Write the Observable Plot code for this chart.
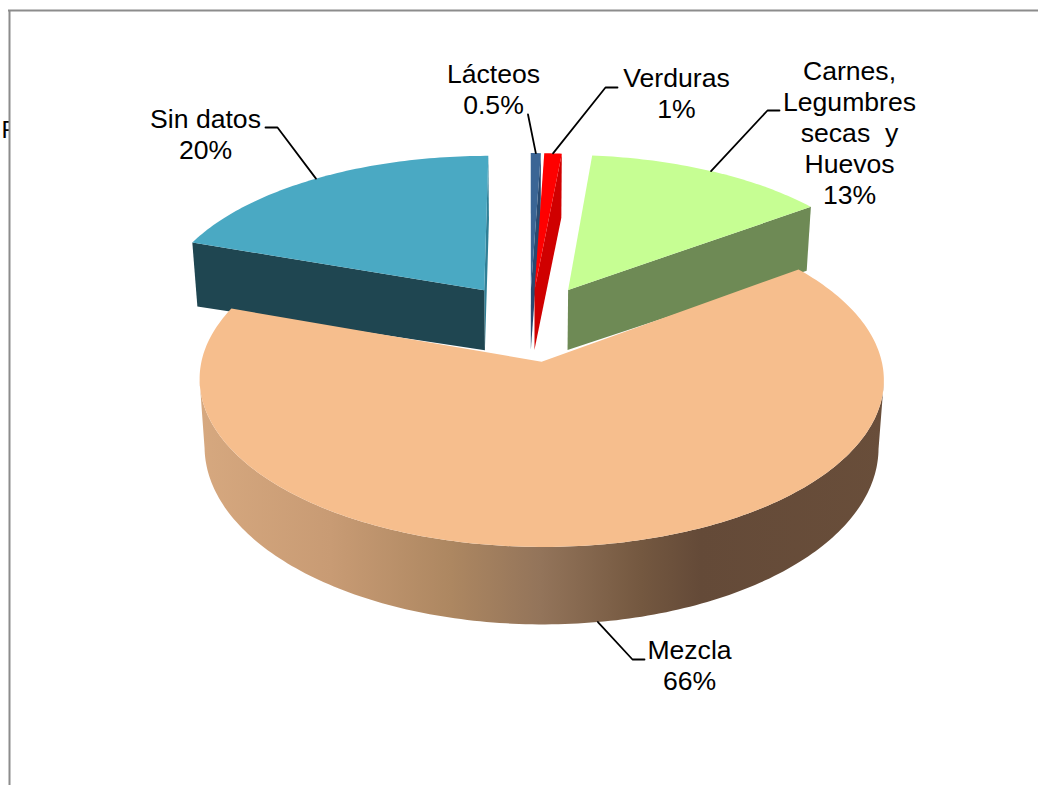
<!DOCTYPE html>
<html>
<head>
<meta charset="utf-8">
<script src="https://cdn.jsdelivr.net/npm/d3@7"></script>
<script src="https://cdn.jsdelivr.net/npm/@observablehq/plot@0.6"></script>
<style>
html,body{margin:0;padding:0;background:#fff;}
svg{display:block;}
</style>
</head>
<body>
<div id="chart"></div>
<script>
// Data, clockwise from 12 o'clock
const categories = ["Lácteos", "Verduras", "Carnes, Legumbres secas y Huevos", "Mezcla", "Sin datos"];
const shares = [0.55, 0.95, 13.4, 65.5, 19.6];
const percentLabels = ["0.5%", "1%", "13%", "66%", "20%"];
const labelTexts = ["Lácteos\n0.5%", "Verduras\n1%", "Carnes,\nLegumbres\nsecas \u00a0y\nHuevos\n13%", "Mezcla\n66%", "Sin datos\n20%"];
const topColors = ["#3b6595", "#ff0000", "#c6fe93", "#f6be8d", "#4aa9c3"];
const sideColors = ["#294a70", "#d00000", "#6e8a55", "#67503a", "#1f4651"];
const sinDatosInnerFace = "#2f7f96";

// Layout of the labels and leader elbows
const labelX = [493, 676, 849, 689, 205];
const labelY = [88.5, 92.5, 132, 664.5, 133.5];
const elbows = [
  [[527.5, 114]],
  [[605, 87], [617, 87]],
  [[767, 110], [779, 110]],
  [[632, 659], [644, 659]],
  [[277, 127], [265, 127]]
];

// Pie projection parameters
const cx = 529, cy = 324.8, R = 332.4, Rk = 158, persp = 0.1044, shrink = 0.985, explode = 0.23;

const rad = (d) => d * Math.PI / 180;
function topPt(X, Y) {
  const d = 1 + persp * Y;
  return {x: cx + R * X / d, y: cy - Rk * Y / d};
}
function bottomPt(X, Y, r) {
  const p = topPt(X, Y);
  return {x: cx + (p.x - cx) * shrink, y: p.y + 60 + 4 * r + Math.max(0, -Y) * 11};
}

let acc = 0;
const total = d3.sum(shares);
const slices = categories.map((name, i) => {
  const a0 = acc / total * 360; acc += shares[i];
  const a1 = acc / total * 360;
  const mid = rad((a0 + a1) / 2);
  const s2 = Math.sin(mid) ** 2;
  const X0 = explode * 1.05 * Math.sin(mid);
  const Y0 = explode * Math.cos(mid) + 0.12 * s2;
  const radiusX = 1 - 0.03 * s2;
  const radiusY = 1 - 0.06 * s2;
  const rim = (deg) => [X0 + radiusX * Math.sin(rad(deg)), Y0 + radiusY * Math.cos(rad(deg))];
  const angles = d3.range(a0, a1, 1).concat(a1);
  return {name, i, a0, a1, X0, Y0, rim, angles};
});

function topFace(s) {
  return [topPt(s.X0, s.Y0), ...s.angles.map((a) => topPt(...s.rim(a)))];
}
function radialFace(s, a) {
  const [X, Y] = s.rim(a);
  return [topPt(s.X0, s.Y0), topPt(X, Y), bottomPt(X, Y, 1), bottomPt(s.X0, s.Y0, 0)];
}
// Visible outer wall: only the stretch between the rim's two horizontal extremes
function outerWall(s) {
  const aRight = d3.greatest(s.angles, (a) => topPt(...s.rim(a)).x);
  const aLeft = d3.least(s.angles, (a) => topPt(...s.rim(a)).x);
  const front = s.angles.filter((a) => a >= aRight && a <= aLeft);
  const tops = front.map((a) => topPt(...s.rim(a)));
  const bots = front.map((a) => bottomPt(...s.rim(a), 1)).reverse();
  return [...tops, ...bots];
}
const poly = (pts, fill) => Plot.line(pts, {x: "x", y: "y", fill, stroke: "none", curve: "linear-closed"});

const [lacteos, verduras, carnes, mezcla, sinDatos] = slices;

const wallGradient = () => {
  const stops = [[200, "#d6a87f"], [330, "#c89b74"], [450, "#ad8761"], [540, "#93745a"], [640, "#745840"], [700, "#644a38"], [890, "#694e3a"]];
  const defs = d3.create("svg:defs");
  const g = defs.append("linearGradient").attr("id", "wall").attr("gradientUnits", "userSpaceOnUse")
    .attr("x1", 200).attr("x2", 890).attr("y1", 0).attr("y2", 0);
  stops.forEach(([x, c]) => g.append("stop").attr("offset", (x - 200) / 690).attr("stop-color", c));
  return defs.node();
};

// Leader lines start at the rim point of each slice's middle angle
const leaders = slices.flatMap((s) => {
  const [X, Y] = s.rim((s.a0 + s.a1) / 2);
  const start = s.name === "Mezcla" ? bottomPt(X, Y, 1) : topPt(X, Y);
  return [start, ...elbows[s.i].map(([x, y]) => ({x, y}))].map((p) => ({...p, id: s.name}));
});

const marks = [
  // clipped stray glyph to the left of the frame
  Plot.text(["F"], {x: [1], y: [130], text: (d) => d, textAnchor: "start", fontSize: 24, fill: "#000"}),
  Plot.rect([0], {x1: [9], x2: [1038], y1: [10], y2: [785], fill: "#fff"}),
  Plot.ruleX([9], {y1: 10, y2: 785, stroke: "#8c8c8c", strokeWidth: 2}),
  Plot.ruleY([10], {x1: 8, x2: 1038, stroke: "#8c8c8c", strokeWidth: 2}),
  wallGradient,
  // Sin datos
  poly(radialFace(sinDatos, sinDatos.a1), sinDatosInnerFace),
  poly(radialFace(sinDatos, sinDatos.a0), sideColors[4]),
  poly(topFace(sinDatos), topColors[4]),
  // Carnes
  poly(radialFace(carnes, carnes.a1), sideColors[2]),
  poly(topFace(carnes), topColors[2]),
  // Lácteos
  poly(radialFace(lacteos, lacteos.a1), sideColors[0]),
  poly(topFace(lacteos), topColors[0]),
  // Verduras
  poly(radialFace(verduras, verduras.a1), sideColors[1]),
  poly(topFace(verduras), topColors[1]),
  // Mezcla
  poly(outerWall(mezcla), "url(#wall)"),
  poly(topFace(mezcla), topColors[3]),
  // Leaders and labels
  Plot.line(leaders, {x: "x", y: "y", z: "id", stroke: "#000", strokeWidth: 1.8}),
  Plot.text(labelTexts, {
    x: (d, i) => labelX[i],
    y: (d, i) => labelY[i],
    text: (d) => d,
    textAnchor: "middle",
    lineAnchor: "middle",
    lineHeight: 1.165,
    fontSize: 26.6,
    fill: "#000"
  })
];

const chart = Plot.plot({
  width: 1038,
  height: 785,
  margin: 0,
  style: {background: "#fff", fontFamily: "'Liberation Sans', Arial, sans-serif"},
  x: {domain: [0, 1038], range: [0, 1038], axis: null},
  y: {domain: [0, 785], range: [0, 785], axis: null},
  marks
});
document.getElementById("chart").append(chart);
</script>
</body>
</html>
